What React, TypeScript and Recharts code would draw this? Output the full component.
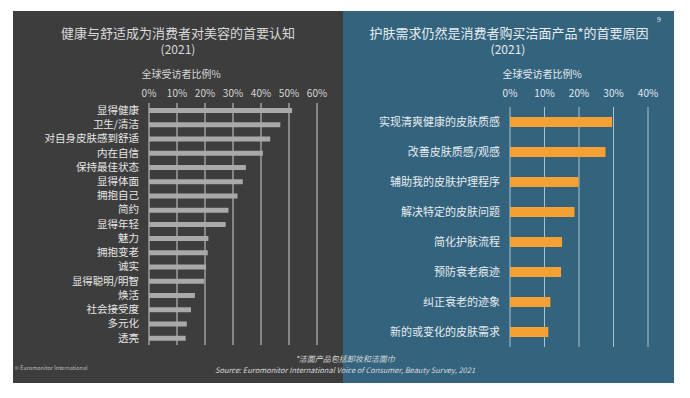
import { BarChart, Bar, XAxis, YAxis, CartesianGrid } from "recharts";

const leftCategories = [
  "显得健康",
  "卫生/清洁",
  "对自身皮肤感到舒适",
  "内在自信",
  "保持最佳状态",
  "显得体面",
  "拥抱自己",
  "简约",
  "显得年轻",
  "魅力",
  "拥抱变老",
  "诚实",
  "显得聪明/明智",
  "焕活",
  "社会接受度",
  "多元化",
  "透亮",
];
const leftValues = [51.1, 46.9, 43.3, 40.7, 34.6, 33.5, 31.6, 28.4, 27.4, 21.2, 21.0, 20.4, 19.7, 16.4, 15.0, 13.5, 13.1];
const leftTicks = [0, 10, 20, 30, 40, 50, 60];

const rightCategories = [
  "实现清爽健康的皮肤质感",
  "改善皮肤质感/观感",
  "辅助我的皮肤护理程序",
  "解决特定的皮肤问题",
  "简化护肤流程",
  "预防衰老痕迹",
  "纠正衰老的迹象",
  "新的或变化的皮肤需求",
];
const rightValues = [29.6, 27.7, 19.9, 18.7, 15.1, 14.8, 11.7, 11.1];
const rightTicks = [0, 10, 20, 30, 40];

const leftTitle = "健康与舒适成为消费者对美容的首要认知";
const rightTitle = "护肤需求仍然是消费者购买洁面产品*的首要原因";
const yearLabel = "(2021)";
const axisLabel = "全球受访者比例%";
const footnote = "*洁面产品包括卸妆和洁面巾";
const source = "Source: Euromonitor International Voice of Consumer, Beauty Survey, 2021";
const copyright = "© Euromonitor International";

const leftData = leftCategories.map((name, i) => ({ name, value: leftValues[i] }));
const rightData = rightCategories.map((name, i) => ({ name, value: rightValues[i] }));

const FONT = '"Noto Sans CJK SC", "Noto Sans", sans-serif';

const txt = (
  x: number,
  y: number,
  size: number,
  color: string,
  extra: React.CSSProperties = {}
): React.CSSProperties => ({
  position: "absolute",
  left: x,
  top: y,
  fontSize: size,
  color,
  whiteSpace: "nowrap",
  lineHeight: 1,
  transform: "translate(-50%, -50%)",
  ...extra,
});

export default function App() {
  return (
    <div
      style={{
        position: "absolute",
        left: 0,
        top: 0,
        width: 690,
        height: 398,
        background: "#ffffff",
        fontFamily: FONT,
        overflow: "hidden",
      }}
    >
      {/* panels */}
      <div style={{ position: "absolute", left: 13, top: 11, width: 330, height: 372, background: "#3d3d3d" }} />
      <div style={{ position: "absolute", left: 343, top: 11, width: 331, height: 372, background: "#34637e" }} />

      {/* left chart */}
      <div style={{ position: "absolute", left: 13, top: 11 }}>
        <BarChart
          width={330}
          height={372}
          layout="vertical"
          data={leftData}
          margin={{ top: 72, right: 26, bottom: 38, left: 0 }}
          barCategoryGap={0}
        >
          <CartesianGrid horizontal={false} vertical stroke="#cfcfcf" strokeWidth={1} />
          <XAxis
            type="number"
            orientation="top"
            domain={[0, 60]}
            ticks={leftTicks}
            interval={0}
            height={20}
            tickFormatter={(v) => `${v}%`}
            tick={{ fill: "#d6d6d6", fontSize: 10 }}
            tickLine={false}
            axisLine={false}
            tickMargin={0}
          />
          <YAxis
            type="category"
            dataKey="name"
            width={136}
            tick={{ fill: "#e6e6e6", fontSize: 10.5 }}
            tickLine={false}
            axisLine={false}
            tickMargin={4}
            interval={0}
          />
          <Bar dataKey="value" fill="#a9a9a9" barSize={5} isAnimationActive={false} />
        </BarChart>
      </div>

      {/* right chart */}
      <div style={{ position: "absolute", left: 343, top: 11 }}>
        <BarChart
          width={330}
          height={372}
          layout="vertical"
          data={rightData}
          margin={{ top: 76, right: 25, bottom: 36, left: 0 }}
          barCategoryGap={0}
        >
          <CartesianGrid horizontal={false} vertical stroke="#a9c3d0" strokeWidth={1} />
          <XAxis
            type="number"
            orientation="top"
            domain={[0, 40]}
            ticks={rightTicks}
            interval={0}
            height={20}
            tickFormatter={(v) => `${v}%`}
            tick={{ fill: "#e2e9ee", fontSize: 10 }}
            tickLine={false}
            axisLine={false}
            tickMargin={4}
          />
          <YAxis
            type="category"
            dataKey="name"
            width={167}
            tick={{ fill: "#e6edf1", fontSize: 11 }}
            tickLine={false}
            axisLine={false}
            tickMargin={4}
            interval={0}
          />
          <Bar dataKey="value" fill="#f5a033" barSize={10} isAnimationActive={false} />
        </BarChart>
      </div>

      {/* titles */}
      <div style={txt(178, 32, 13, "#d9d9d9")}>{leftTitle}</div>
      <div style={txt(178, 49, 12, "#d9d9d9")}>{yearLabel}</div>
      <div style={txt(181, 74, 10, "#d6d6d6")}>{axisLabel}</div>

      <div style={txt(509, 32, 13, "#e6edf1")}>{rightTitle}</div>
      <div style={txt(508, 49, 12, "#e6edf1")}>{yearLabel}</div>
      <div style={txt(542, 74, 10, "#e2e9ee")}>{axisLabel}</div>
      <div style={txt(659, 19, 7, "#e6edf1")}>9</div>

      {/* footer */}
      <div style={txt(345, 359, 8, "#d9d9d9", { fontStyle: "italic" })}>{footnote}</div>
      <div style={txt(345, 369.5, 7.5, "#d9d9d9", { fontStyle: "italic" })}>{source}</div>
      <div style={txt(51, 369, 5.5, "#bdbdbd")}>{copyright}</div>
    </div>
  );
}
